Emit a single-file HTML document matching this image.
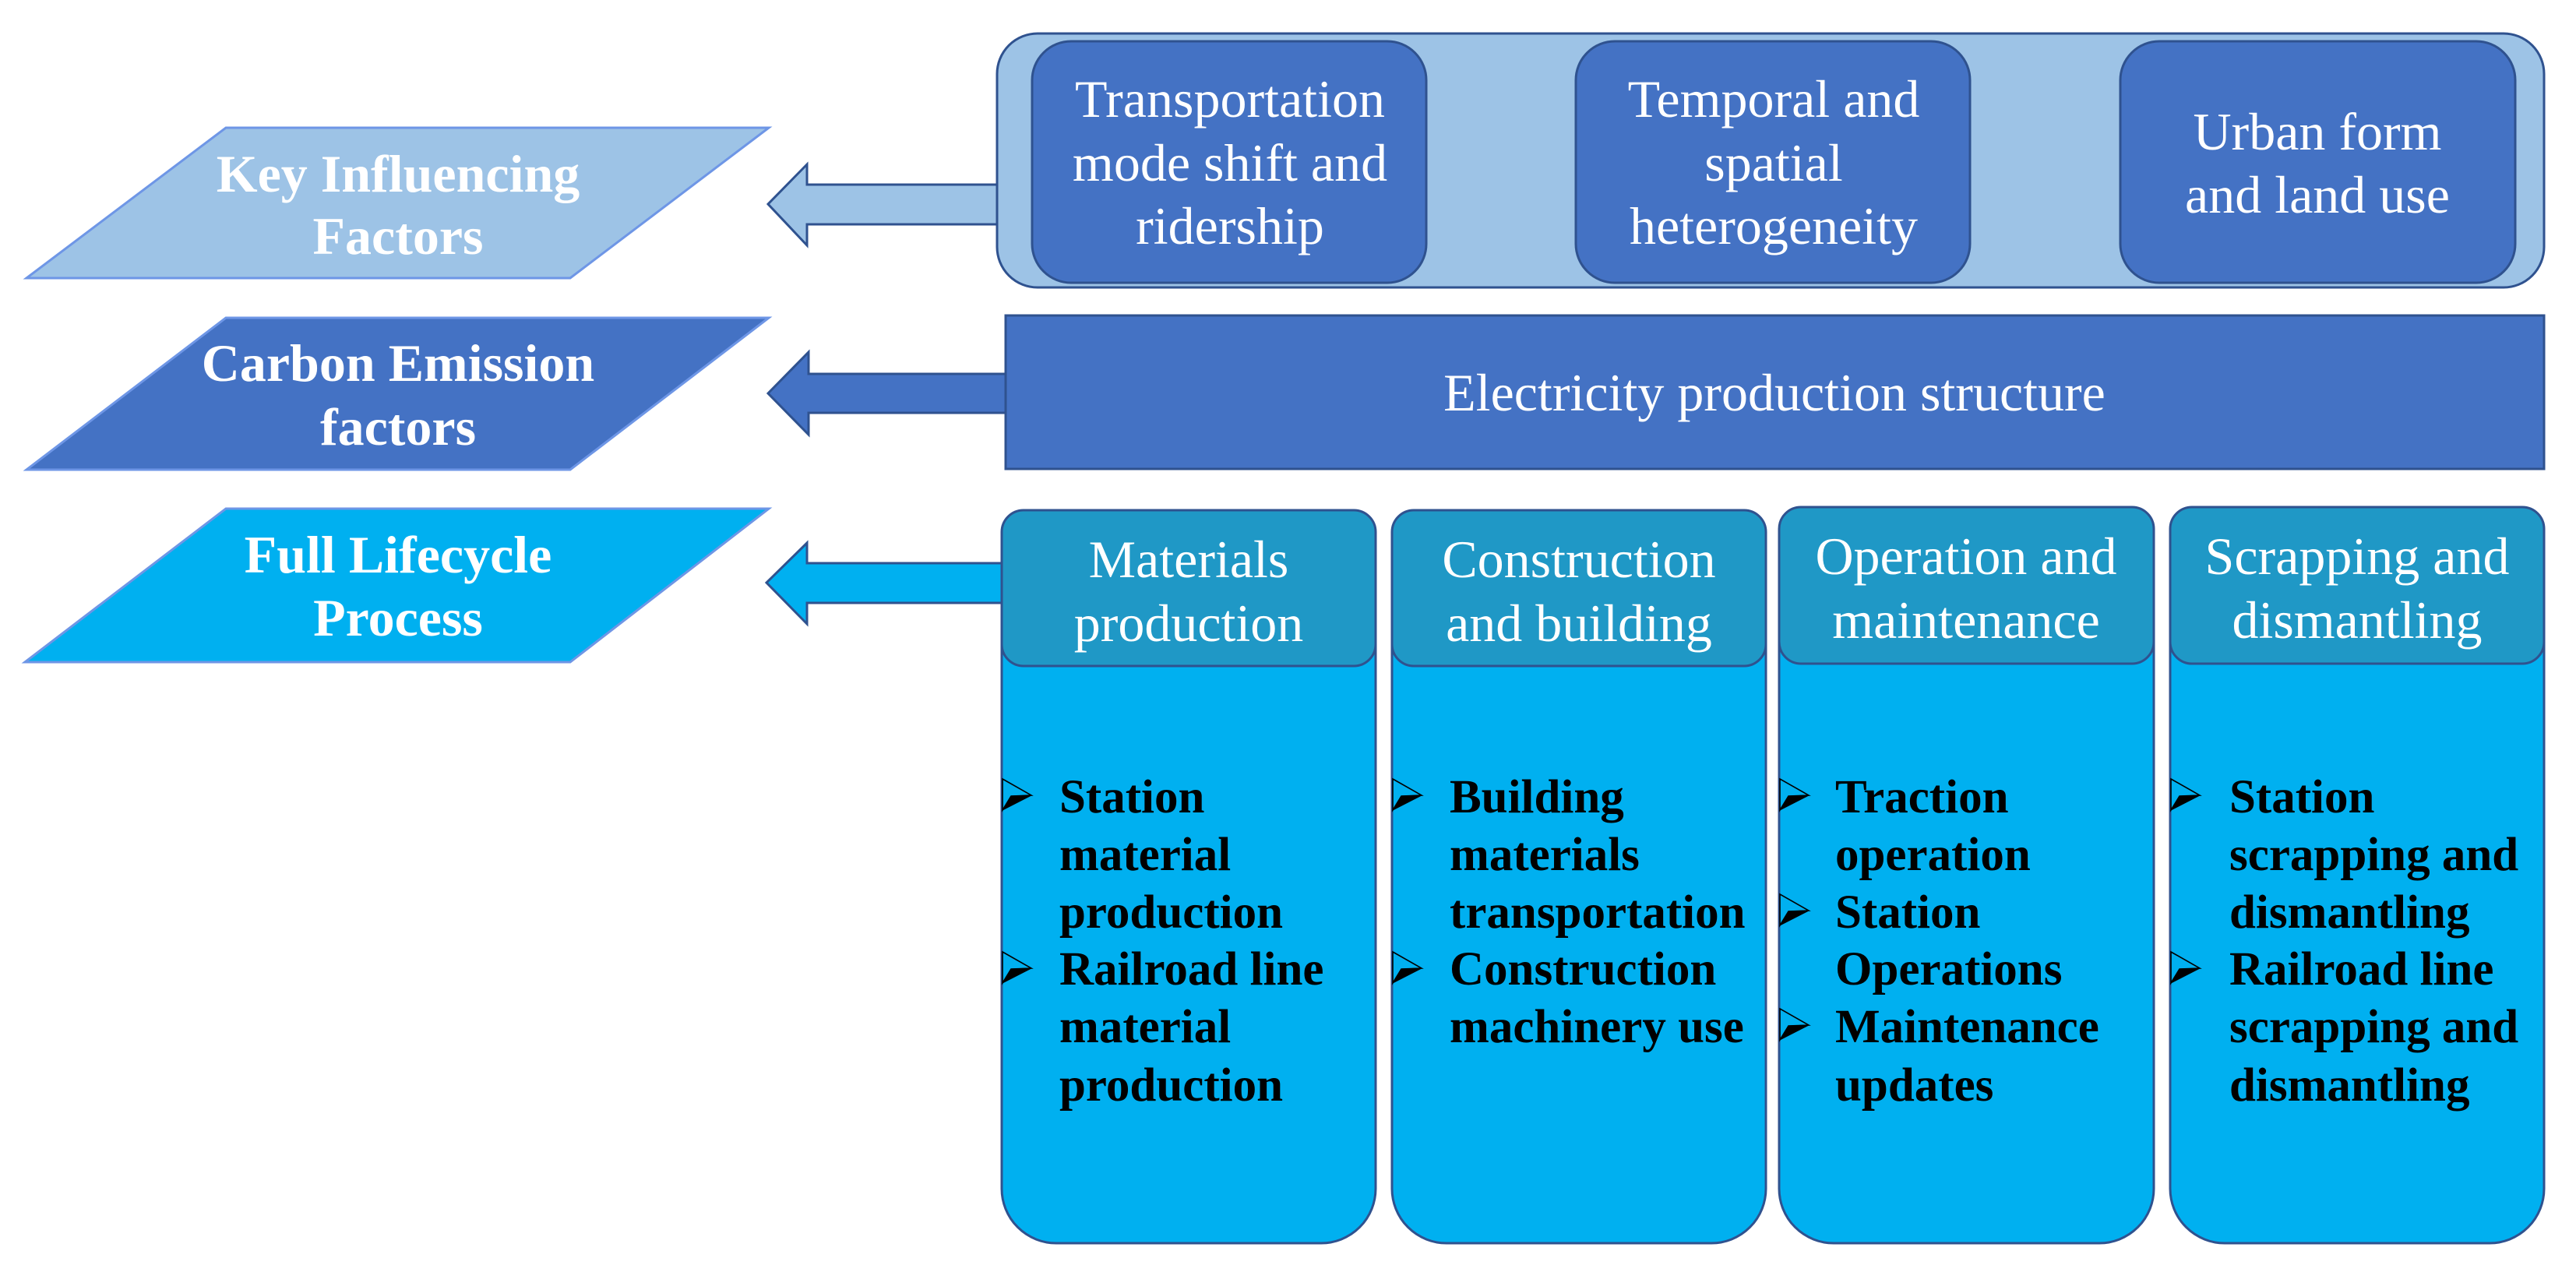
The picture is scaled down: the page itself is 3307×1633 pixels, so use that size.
<!DOCTYPE html>
<html><head><meta charset="utf-8"><style>
html,body{margin:0;padding:0;background:#fff}
svg{display:block}
text{font-family:"Liberation Serif",serif}
.h{font-size:68px;fill:#fff;text-anchor:middle}
.b{font-size:68px;fill:#fff;text-anchor:middle;font-weight:bold}
.k{font-size:61px;fill:#000;font-weight:bold}
</style></head><body>
<svg width="3307" height="1633" viewBox="0 0 3307 1633" xmlns="http://www.w3.org/2000/svg">
<rect width="3307" height="1633" fill="#fff"/>
<defs><g id="bu"><path d="M0 -21L37 0L11 1L0 19Z" fill="none" stroke="#000" stroke-width="1.6"/><path d="M0 19L11 1L37 0Z" fill="#000" stroke="#000" stroke-width="1"/></g></defs>

<!-- parallelograms -->
<polygon points="290,164 987,164 732,357 34,357" fill="#9DC3E6" stroke="#6E96E6" stroke-width="3"/>
<polygon points="290,408 987,408 732,603 34,603" fill="#4472C4" stroke="#6E96E6" stroke-width="3"/>
<polygon points="290,653 987,653 732,850 32,850" fill="#00B0F0" stroke="#6E96E6" stroke-width="3"/>
<text class="b" x="511" y="246">Key Influencing</text>
<text class="b" x="511" y="326">Factors</text>
<text class="b" x="511" y="489">Carbon Emission</text>
<text class="b" x="511" y="571">factors</text>
<text class="b" x="511" y="735">Full Lifecycle</text>
<text class="b" x="511" y="816">Process</text>

<!-- arrows -->
<polygon points="1281,237 1036,237 1036,211 986,262 1036,315 1036,288 1281,288" fill="#9DC3E6" stroke="#2F528F" stroke-width="3"/>
<polygon points="1292,480 1038,480 1038,452 986,505 1038,558 1038,530 1292,530" fill="#4472C4" stroke="#2F528F" stroke-width="3"/>
<polygon points="1288,723 1036,723 1036,697 984,748 1036,801 1036,774 1288,774" fill="#00B0F0" stroke="#2F528F" stroke-width="3"/>

<!-- top container -->
<rect x="1280" y="43" width="1986" height="326" rx="52" ry="52" fill="#9DC3E6" stroke="#2F528F" stroke-width="3"/>
<rect x="1325" y="53" width="506" height="310" rx="50" ry="50" fill="#4472C4" stroke="#2F528F" stroke-width="3"/>
<rect x="2023" y="53" width="506" height="310" rx="50" ry="50" fill="#4472C4" stroke="#2F528F" stroke-width="3"/>
<rect x="2722" y="53" width="507" height="310" rx="50" ry="50" fill="#4472C4" stroke="#2F528F" stroke-width="3"/>
<text class="h" x="1579" y="150">Transportation</text>
<text class="h" x="1579" y="232">mode shift and</text>
<text class="h" x="1579" y="313">ridership</text>
<text class="h" x="2277" y="150">Temporal and</text>
<text class="h" x="2277" y="232">spatial</text>
<text class="h" x="2277" y="313">heterogeneity</text>
<text class="h" x="2975" y="192">Urban form</text>
<text class="h" x="2975" y="273">and land use</text>

<!-- electricity -->
<rect x="1291" y="405" width="1975" height="197" fill="#4472C4" stroke="#2F528F" stroke-width="3"/>
<text class="h" x="2278" y="527">Electricity production structure</text>

<!-- columns -->
<rect x="1286" y="655" width="480" height="941" rx="70" ry="70" fill="#00B0F0" stroke="#2F528F" stroke-width="3"/>
<rect x="1787" y="655" width="480" height="941" rx="70" ry="70" fill="#00B0F0" stroke="#2F528F" stroke-width="3"/>
<rect x="2284" y="651" width="481" height="945" rx="70" ry="70" fill="#00B0F0" stroke="#2F528F" stroke-width="3"/>
<rect x="2786" y="651" width="480" height="945" rx="70" ry="70" fill="#00B0F0" stroke="#2F528F" stroke-width="3"/>
<rect x="1286" y="655" width="480" height="200" rx="28" ry="28" fill="#1F98C6" stroke="#2F528F" stroke-width="3"/>
<rect x="1787" y="655" width="480" height="200" rx="28" ry="28" fill="#1F98C6" stroke="#2F528F" stroke-width="3"/>
<rect x="2284" y="651" width="481" height="201" rx="28" ry="28" fill="#1F98C6" stroke="#2F528F" stroke-width="3"/>
<rect x="2786" y="651" width="480" height="201" rx="28" ry="28" fill="#1F98C6" stroke="#2F528F" stroke-width="3"/>
<text class="h" x="1526" y="741">Materials</text>
<text class="h" x="1526" y="823">production</text>
<text class="h" x="2027" y="741">Construction</text>
<text class="h" x="2027" y="823">and building</text>
<text class="h" x="2524" y="737">Operation and</text>
<text class="h" x="2524" y="819">maintenance</text>
<text class="h" x="3026" y="737">Scrapping and</text>
<text class="h" x="3026" y="819">dismantling</text>

<!-- bullets -->
<use href="#bu" x="1287" y="1021"/><use href="#bu" x="1287" y="1243"/>
<use href="#bu" x="1788" y="1021"/><use href="#bu" x="1788" y="1243"/>
<use href="#bu" x="2285" y="1021"/><use href="#bu" x="2285" y="1169"/><use href="#bu" x="2285" y="1316"/>
<use href="#bu" x="2787" y="1021"/><use href="#bu" x="2787" y="1243"/>

<text class="k" x="1360" y="1043">Station</text>
<text class="k" x="1360" y="1117">material</text>
<text class="k" x="1360" y="1191">production</text>
<text class="k" x="1360" y="1264">Railroad line</text>
<text class="k" x="1360" y="1338">material</text>
<text class="k" x="1360" y="1413">production</text>

<text class="k" x="1861" y="1043">Building</text>
<text class="k" x="1861" y="1117">materials</text>
<text class="k" x="1861" y="1191">transportation</text>
<text class="k" x="1861" y="1264">Construction</text>
<text class="k" x="1861" y="1338">machinery use</text>

<text class="k" x="2356" y="1043">Traction</text>
<text class="k" x="2356" y="1117">operation</text>
<text class="k" x="2356" y="1191">Station</text>
<text class="k" x="2356" y="1264">Operations</text>
<text class="k" x="2356" y="1338">Maintenance</text>
<text class="k" x="2356" y="1413">updates</text>

<text class="k" x="2862" y="1043">Station</text>
<text class="k" x="2862" y="1117">scrapping and</text>
<text class="k" x="2862" y="1191">dismantling</text>
<text class="k" x="2862" y="1264">Railroad line</text>
<text class="k" x="2862" y="1338">scrapping and</text>
<text class="k" x="2862" y="1413">dismantling</text>
</svg>
</body></html>
